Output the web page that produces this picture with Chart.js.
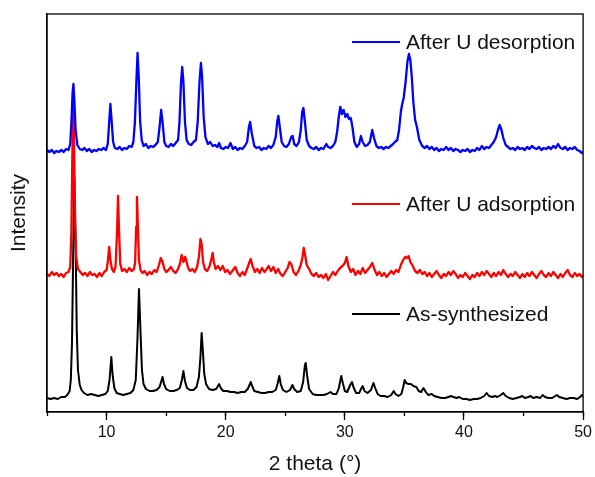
<!DOCTYPE html>
<html>
<head>
<meta charset="utf-8">
<script src="https://cdn.jsdelivr.net/npm/chart.js@4"></script>
<style>
    body { margin: 0; background: #fff; }
    canvas { display: block; }
</style>
</head>
<body>
<canvas id="xrd" width="595" height="477"></canvas>
<script>
// 2 theta (deg), intensity (a.u., stacked offsets included)
var desorption = [
    [5.0,262],[5.2,260],[5.4,262],[5.6,259],[5.8,261],[6.0,260],[6.2,262],[6.4,260],[6.6,263],[6.8,262],
    [6.95,268],[7.05,290],[7.15,320],[7.22,328],[7.3,310],[7.4,282],[7.55,267],[7.75,263],[7.95,262],[8.15,264],
    [8.35,261],[8.55,263],[8.75,260],[8.95,262],[9.15,261],[9.35,263],[9.55,262],[9.75,264],[9.95,262],[10.1,268],
    [10.22,290],[10.32,308],[10.42,292],[10.55,270],[10.7,264],[10.9,263],[11.1,265],[11.3,262],[11.5,264],[11.7,263],
    [11.9,266],[12.1,265],[12.25,270],[12.38,290],[12.5,330],[12.6,359],[12.7,335],[12.82,290],[12.95,272],[13.1,266],
    [13.3,268],[13.5,264],[13.7,266],[13.9,265],[14.1,267],[14.3,270],[14.45,285],[14.58,302],[14.7,290],[14.85,270],
    [15.0,266],[15.2,265],[15.4,268],[15.6,266],[15.8,269],[16.0,272],[16.12,290],[16.25,330],[16.35,345],[16.45,330],
    [16.58,290],[16.72,272],[16.9,268],[17.1,267],[17.3,270],[17.5,272],[17.65,290],[17.8,330],[17.92,349],[18.02,335],
    [18.15,295],[18.3,275],[18.5,268],[18.7,270],[18.9,266],[19.1,267],[19.3,265],[19.45,269],[19.6,264],[19.8,263],
    [20.0,265],[20.2,264],[20.4,269],[20.6,263],[20.8,265],[21.0,262],[21.2,264],[21.4,263],[21.6,266],[21.8,270],
    [21.95,285],[22.05,290],[22.2,278],[22.4,266],[22.6,264],[22.8,265],[23.0,262],[23.2,264],[23.4,263],[23.6,266],
    [23.8,264],[24.0,267],[24.2,275],[24.32,290],[24.42,296],[24.55,284],[24.7,270],[24.9,266],[25.1,265],[25.3,268],
    [25.5,275],[25.62,276],[25.75,268],[25.95,266],[26.15,270],[26.3,282],[26.42,300],[26.52,304],[26.65,290],[26.8,272],
    [27.0,266],[27.2,264],[27.4,263],[27.6,265],[27.8,262],[28.0,264],[28.2,263],[28.45,268],[28.6,265],[28.8,264],
    [29.0,266],[29.2,270],[29.35,280],[29.5,296],[29.62,305],[29.75,298],[29.9,302],[30.05,295],[30.2,298],[30.35,293],
    [30.5,294],[30.65,284],[30.8,270],[31.0,265],[31.2,268],[31.35,276],[31.5,270],[31.7,266],[31.9,267],[32.1,270],
    [32.3,282],[32.45,274],[32.65,266],[32.85,264],[33.05,265],[33.25,263],[33.45,265],[33.65,264],[33.85,266],[34.05,268],
    [34.2,270],[34.4,272],[34.55,282],[34.7,300],[34.8,307],[34.95,315],[35.1,330],[35.25,350],[35.38,358],[35.5,352],
    [35.62,335],[35.75,310],[35.9,292],[36.05,285],[36.25,272],[36.5,266],[36.7,264],[36.9,266],[37.1,263],[37.3,265],
    [37.5,262],[37.7,264],[37.9,261],[38.1,263],[38.3,262],[38.5,265],[38.7,262],[38.9,264],[39.1,261],[39.3,263],
    [39.5,262],[39.7,260],[39.9,262],[40.1,261],[40.3,263],[40.5,260],[40.7,262],[40.9,261],[41.1,264],[41.3,262],
    [41.5,266],[41.7,263],[41.9,265],[42.1,264],[42.3,267],[42.5,270],[42.7,275],[42.85,282],[43.0,287],[43.15,282],
    [43.3,274],[43.5,267],[43.7,265],[43.9,263],[44.1,264],[44.3,262],[44.5,265],[44.7,263],[44.9,264],[45.1,262],
    [45.3,265],[45.5,263],[45.7,266],[45.9,264],[46.1,263],[46.3,265],[46.5,262],[46.7,264],[46.9,263],[47.1,265],
    [47.3,263],[47.5,266],[47.7,264],[47.9,268],[48.1,264],[48.3,263],[48.5,265],[48.7,262],[48.9,264],[49.1,263],
    [49.3,265],[49.5,262],[49.7,261],[49.9,259],[50.0,260]
];

var adsorption = [
    [5.0,138],[5.2,136],[5.4,140],[5.6,137],[5.8,139],[6.0,136],[6.2,138],[6.4,135],[6.6,139],[6.8,140],
    [6.95,145],[7.05,180],[7.12,250],[7.2,307],[7.28,260],[7.36,190],[7.45,155],[7.6,143],[7.8,140],[8.0,137],
    [8.2,139],[8.4,136],[8.6,140],[8.8,137],[9.0,138],[9.2,135],[9.4,139],[9.6,136],[9.8,140],[10.0,142],
    [10.1,150],[10.22,165],[10.32,152],[10.45,143],[10.6,140],[10.75,145],[10.88,180],[10.96,216],[11.05,180],[11.15,148],
    [11.3,141],[11.5,143],[11.7,140],[11.9,144],[12.1,141],[12.3,143],[12.4,150],[12.48,185],[12.55,215],[12.63,185],
    [12.72,152],[12.85,142],[13.0,139],[13.2,141],[13.4,137],[13.6,140],[13.8,138],[14.0,142],[14.2,140],[14.4,147],
    [14.55,154],[14.7,150],[14.85,143],[15.0,140],[15.2,142],[15.4,145],[15.6,141],[15.8,139],[16.0,143],[16.15,148],
    [16.3,157],[16.45,150],[16.6,155],[16.72,150],[16.85,144],[17.0,141],[17.2,143],[17.4,140],[17.6,145],[17.75,155],
    [17.88,173],[17.98,168],[18.1,150],[18.25,143],[18.45,141],[18.65,146],[18.8,153],[18.9,159],[19.0,150],[19.15,143],
    [19.35,146],[19.55,142],[19.75,146],[19.95,140],[20.15,142],[20.35,138],[20.55,141],[20.8,145],[21.0,139],[21.2,136],
    [21.4,140],[21.6,137],[21.85,145],[22.0,150],[22.1,153],[22.25,146],[22.45,140],[22.65,143],[22.85,139],[23.05,144],
    [23.25,140],[23.45,143],[23.6,146],[23.8,141],[24.0,145],[24.2,139],[24.4,143],[24.6,138],[24.8,136],[25.0,140],
    [25.2,144],[25.35,150],[25.5,148],[25.7,140],[25.9,137],[26.1,141],[26.3,147],[26.45,155],[26.55,164],[26.65,158],
    [26.8,147],[27.0,143],[27.2,138],[27.4,136],[27.6,139],[27.8,135],[28.0,137],[28.2,134],[28.4,138],[28.6,132],
    [28.8,136],[29.0,140],[29.2,137],[29.4,141],[29.6,144],[29.8,146],[30.0,149],[30.15,155],[30.3,146],[30.5,140],
    [30.7,143],[30.9,137],[31.1,141],[31.3,138],[31.5,144],[31.7,139],[31.9,142],[32.1,145],[32.3,149],[32.5,142],
    [32.7,137],[32.9,140],[33.1,136],[33.3,139],[33.5,135],[33.7,138],[33.9,141],[34.1,138],[34.3,142],[34.5,140],
    [34.7,147],[34.9,152],[35.05,155],[35.2,154],[35.35,156],[35.5,150],[35.7,146],[35.9,141],[36.1,139],[36.3,142],
    [36.5,138],[36.7,140],[36.9,136],[37.1,139],[37.3,135],[37.5,138],[37.7,141],[37.9,137],[38.1,134],[38.3,138],
    [38.5,136],[38.7,140],[38.9,137],[39.1,141],[39.3,138],[39.5,134],[39.7,137],[39.9,135],[40.1,139],[40.3,136],
    [40.5,133],[40.7,137],[40.9,135],[41.1,139],[41.3,136],[41.5,140],[41.7,137],[41.9,141],[42.1,138],[42.3,135],
    [42.5,139],[42.7,136],[42.9,140],[43.1,137],[43.3,142],[43.5,138],[43.7,135],[43.9,138],[44.1,136],[44.3,140],
    [44.5,137],[44.7,134],[44.9,138],[45.1,135],[45.3,139],[45.5,136],[45.7,140],[45.9,137],[46.1,134],[46.3,138],
    [46.5,141],[46.7,137],[46.9,135],[47.1,139],[47.3,136],[47.5,140],[47.7,137],[47.9,134],[48.1,138],[48.3,135],
    [48.5,139],[48.7,142],[48.9,137],[49.1,135],[49.3,139],[49.5,136],[49.7,138],[49.9,135],[50.0,137]
];

var synthesized = [
    [5.0,14],[5.3,13],[5.6,14],[5.9,13],[6.2,15],[6.5,15],[6.7,17],[6.9,21],[7.0,32],[7.1,70],
    [7.2,160],[7.3,234],[7.4,170],[7.5,80],[7.6,42],[7.75,27],[7.9,22],[8.1,19],[8.4,17],[8.7,18],
    [9.0,17],[9.3,16],[9.6,17],[9.9,18],[10.1,21],[10.25,32],[10.4,55],[10.5,38],[10.65,24],[10.85,19],
    [11.1,18],[11.4,17],[11.7,18],[12.0,19],[12.25,22],[12.45,32],[12.6,75],[12.72,123],[12.85,80],[12.97,42],
    [13.1,28],[13.3,23],[13.6,21],[13.9,21],[14.2,22],[14.45,25],[14.6,31],[14.7,35],[14.82,28],[15.0,23],
    [15.3,21],[15.6,21],[15.9,22],[16.15,24],[16.32,32],[16.45,41],[16.58,31],[16.75,24],[17.0,22],[17.3,22],
    [17.55,25],[17.75,35],[17.88,55],[17.98,79],[18.08,62],[18.2,38],[18.35,28],[18.6,23],[18.9,22],[19.2,23],
    [19.35,26],[19.45,28],[19.58,24],[19.8,21],[20.1,21],[20.4,20],[20.7,20],[21.0,19],[21.3,20],[21.6,20],
    [21.85,23],[22.0,27],[22.1,30],[22.22,26],[22.4,21],[22.7,20],[23.0,19],[23.3,19],[23.6,20],[23.9,20],
    [24.2,22],[24.35,28],[24.5,36],[24.62,28],[24.8,22],[25.1,20],[25.4,22],[25.6,27],[25.75,23],[26.0,20],
    [26.3,21],[26.5,30],[26.65,47],[26.72,49],[26.85,35],[27.0,23],[27.3,18],[27.6,17],[27.9,17],[28.2,17],
    [28.5,18],[28.8,20],[29.0,18],[29.3,18],[29.5,24],[29.7,36],[29.85,28],[30.0,21],[30.2,20],[30.45,27],
    [30.6,30],[30.75,24],[30.95,19],[31.2,19],[31.4,24],[31.5,26],[31.65,21],[31.9,19],[32.2,22],[32.4,29],
    [32.55,24],[32.75,18],[33.0,16],[33.3,16],[33.6,15],[33.9,17],[34.1,21],[34.25,18],[34.5,16],[34.75,18],
    [34.9,25],[35.02,32],[35.15,29],[35.35,28],[35.55,28],[35.75,26],[36.0,25],[36.2,21],[36.4,20],[36.6,24],
    [36.8,20],[37.0,17],[37.3,18],[37.5,16],[37.8,15],[38.1,14],[38.4,14],[38.7,15],[38.9,16],[39.1,15],
    [39.4,14],[39.6,15],[39.9,13],[40.2,13],[40.5,12],[40.8,13],[41.1,13],[41.4,14],[41.7,16],[41.9,19],
    [42.1,16],[42.4,15],[42.6,16],[42.8,15],[43.1,17],[43.3,19],[43.5,16],[43.8,14],[44.1,13],[44.4,14],
    [44.7,15],[44.9,16],[45.1,14],[45.4,15],[45.6,16],[45.8,14],[46.1,15],[46.4,14],[46.6,17],[46.8,15],
    [47.1,14],[47.4,14],[47.8,17],[48.0,15],[48.3,14],[48.6,13],[48.9,14],[49.2,14],[49.5,13],[49.75,15],
    [49.9,17],[50.0,15]
];

var seriesNames = ["After U desorption", "After U adsorption", "As-synthesized"];
var seriesColors = ["#0000ff", "#ff0000", "#000000"];
var xTickValues = [10, 20, 30, 40, 50];

// legend sample lines sit beside each pattern, not in a box
var legendRows = [42, 204, 314];

var frame = {
    id: "frame",
    afterDatasetsDraw: function (chart) {
        var a = chart.chartArea;
        var ctx = chart.ctx;
        ctx.save();
        ctx.strokeStyle = "#000";
        ctx.lineWidth = 1.3;
        ctx.strokeRect(a.left, a.top, a.right - a.left, a.bottom - a.top);
        ctx.restore();
    }
};

var sideLegend = {
    id: "sideLegend",
    afterDraw: function (chart) {
        var ctx = chart.ctx;
        ctx.save();
        ctx.font = "21px 'Liberation Sans', Arial, sans-serif";
        ctx.textBaseline = "middle";
        chart.data.datasets.forEach(function (ds, i) {
            var y = legendRows[i];
            ctx.strokeStyle = ds.borderColor;
            ctx.lineWidth = 2;
            ctx.beginPath();
            ctx.moveTo(352, y);
            ctx.lineTo(400, y);
            ctx.stroke();
            ctx.fillStyle = "#111";
            ctx.fillText(ds.label, 406, y + 1);
        });
        ctx.restore();
    }
};

var ctx = document.getElementById("xrd").getContext("2d");
var xrdChart = new Chart(ctx, {
    type: "line",
    data: {
        datasets: [
            { label: seriesNames[0], data: desorption, borderColor: seriesColors[0], borderWidth: 2.3 },
            { label: seriesNames[1], data: adsorption, borderColor: seriesColors[1], borderWidth: 2.3 },
            { label: seriesNames[2], data: synthesized, borderColor: seriesColors[2], borderWidth: 2 }
        ]
    },
    options: {
        responsive: false,
        animation: false,
        devicePixelRatio: 1,
        layout: { padding: { top: 14, right: 9, left: 0, bottom: 0 } },
        elements: { point: { radius: 0 }, line: { tension: 0, borderJoinStyle: "round" } },
        plugins: {
            legend: { display: false },
            tooltip: { enabled: false }
        },
        scales: {
            x: {
                type: "linear",
                position: "bottom",
                weight: 1,
                min: 5,
                max: 50,
                afterBuildTicks: function (scale) {
                    scale.ticks = xTickValues.map(function (v) { return { value: v }; });
                },
                ticks: {
                    color: "#111",
                    padding: 3,
                    font: { family: "'Liberation Sans', Arial, sans-serif", size: 16 }
                },
                grid: { display: true, drawOnChartArea: false, tickLength: 8, tickColor: "#000", tickWidth: 1.3 },
                border: { display: true, color: "#000", width: 1.3 },
                title: {
                    display: true,
                    text: "2 theta (°)",
                    color: "#111",
                    padding: { top: 0, bottom: 0 },
                    font: { family: "'Liberation Sans', Arial, sans-serif", size: 21 }
                },
                afterFit: function (scale) { scale.height = 65; }
            },
            xMinor: {
                type: "linear",
                position: "bottom",
                weight: 0,
                min: 5,
                max: 50,
                ticks: { stepSize: 5, display: false },
                grid: { display: true, drawOnChartArea: false, tickLength: 4, tickColor: "#000", tickWidth: 1.3 },
                border: { display: false },
                afterFit: function (scale) { scale.height = 0; }
            },
            y: {
                type: "linear",
                min: 0,
                max: 398,
                ticks: { display: false },
                grid: { display: false },
                border: { display: true, color: "#000", width: 1.3 },
                title: {
                    display: true,
                    text: "Intensity",
                    color: "#111",
                    padding: { top: 7, bottom: 0 },
                    font: { family: "'Liberation Sans', Arial, sans-serif", size: 21 }
                },
                afterFit: function (scale) { scale.width = 47; }
            }
        }
    },
    plugins: [frame, sideLegend]
});
</script>
</body>
</html>
